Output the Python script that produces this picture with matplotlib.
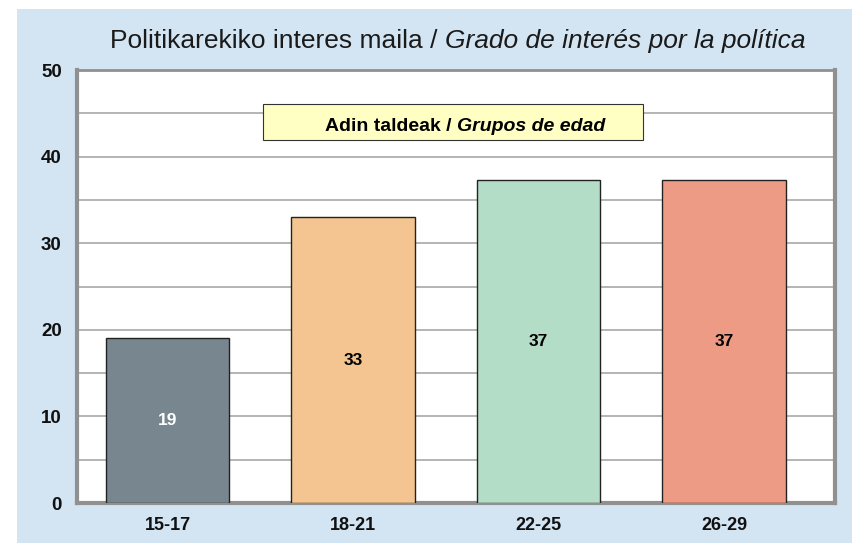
import matplotlib.pyplot as plt
from matplotlib.patches import Rectangle
from matplotlib.text import Annotation
from matplotlib.ticker import MultipleLocator

plt.rcParams['font.family'] = ['Liberation Sans', 'DejaVu Sans']

# datos
grupos = ['15-17', '18-21', '22-25', '26-29']
valores = [19, 33, 37.3, 37.3]
colores = ['#78868f', '#f4c590', '#b4ddc8', '#ee9b85']
color_texto = ['white', 'black', 'black', 'black']

titulo_eu = 'Politikarekiko interes maila / '
titulo_es = 'Grado de interés por la política'
leyenda_eu = 'Adin taldeak / '
leyenda_es = 'Grupos de edad'

fig = plt.figure(figsize=(8.53, 5.44), dpi=100)
fig.patch.set_facecolor('white')
# fondo azul
fig.patches.append(Rectangle((17/853, 1/544), 1 - 17/853, 1 - 10/544,
                             transform=fig.transFigure, facecolor='#d3e5f3',
                             edgecolor='none', zorder=-10))

ax = fig.add_axes([77/853, 41/544, 758/853, 433/544])
ax.set_facecolor('white')

x = range(len(grupos))
ax.bar(x, valores, width=0.665, color=colores, edgecolor='#222222', linewidth=1.0, zorder=3)
for i, v in enumerate(valores):
    ax.text(i, v / 2, '%.0f' % v, ha='center', va='center', fontsize=12.5,
            fontweight='bold', color=color_texto[i], zorder=4)

ax.set_xlim(-0.488, 3.598)
ax.set_ylim(0, 50)
ax.yaxis.set_major_locator(MultipleLocator(10))
ax.yaxis.set_minor_locator(MultipleLocator(5))
ax.grid(True, which='both', axis='y', color='#a8a8a8', linewidth=1.2, zorder=1)
ax.set_axisbelow(True)
ax.set_xticks(list(x))
ax.set_xticklabels(grupos)
ax.tick_params(axis='both', which='both', length=0)
ax.tick_params(axis='y', labelsize=13.5, pad=11)
ax.tick_params(axis='x', labelsize=13, pad=10)
for lab in ax.get_xticklabels() + ax.get_yticklabels():
    lab.set_fontweight('bold')
    lab.set_color('#111111')

for lado in ['left', 'bottom', 'right', 'top']:
    ax.spines[lado].set_color('#909090')
ax.spines['left'].set_linewidth(3)
ax.spines['bottom'].set_linewidth(3)
ax.spines['right'].set_linewidth(3)
ax.spines['top'].set_linewidth(2)

# titulo
t1 = fig.text(110/853, 1 - 48/544, titulo_eu, fontsize=19, color='#1a1a1a', va='baseline')
fig.add_artist(Annotation(titulo_es, xy=(1, 0), xycoords=t1, va='bottom', fontsize=19,
                          style='italic', color='#1a1a1a', annotation_clip=False))

# caja de leyenda
fig.patches.append(Rectangle((263/853, 1 - 140/544), 380/853, 36/544,
                             transform=fig.transFigure, facecolor='#ffffc4',
                             edgecolor='#333333', linewidth=0.8, zorder=5))
l1 = fig.text(325/853, 1 - 131/544, leyenda_eu, fontsize=14, fontweight='bold',
              va='baseline', zorder=6)
fig.add_artist(Annotation(leyenda_es, xy=(1, 0), xycoords=l1, va='bottom', fontsize=14,
                          fontweight='bold', style='italic', zorder=6, annotation_clip=False))

fig.savefig('out.png', dpi=100)
